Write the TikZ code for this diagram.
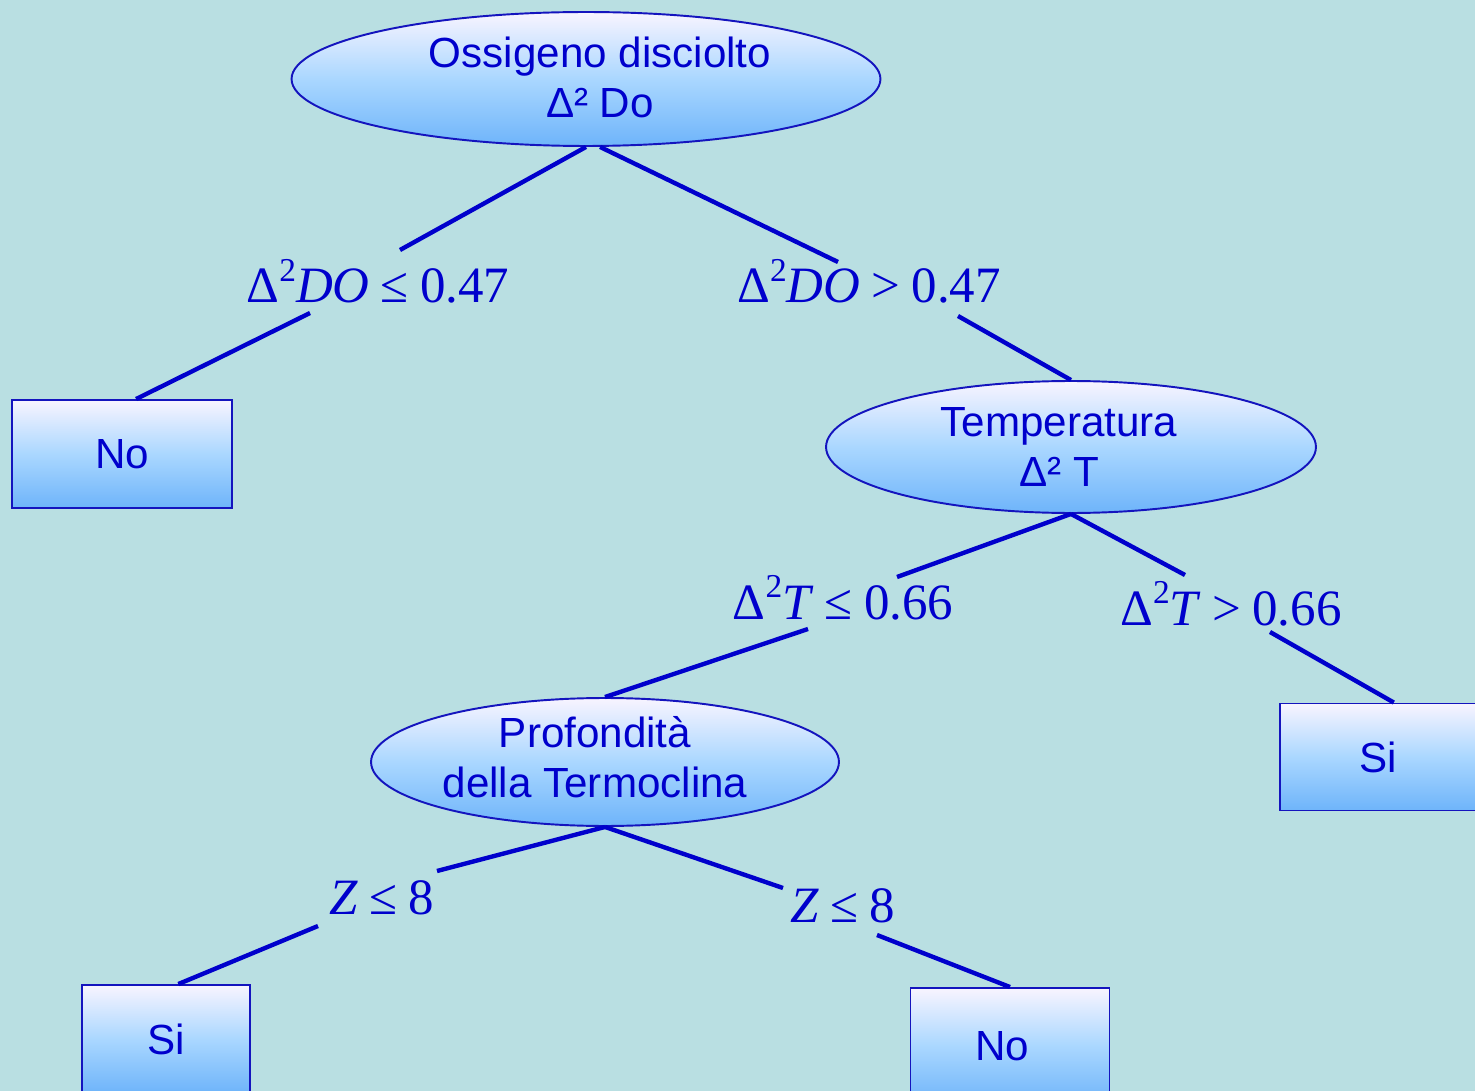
\documentclass[tikz,border=0pt]{standalone}
\usepackage{fontspec}
\setmainfont{Liberation Serif}
\newfontfamily\nodefont{Liberation Sans}
\usetikzlibrary{shapes.geometric}
\definecolor{bgc}{RGB}{185,223,226}
\definecolor{ink}{RGB}{0,0,204}
\definecolor{edgec}{RGB}{20,20,190}
\definecolor{fillbot}{RGB}{110,180,250}
\definecolor{fillmid}{RGB}{170,215,255}
\definecolor{filltop}{RGB}{248,244,255}
\tikzset{
  ellnode/.style={ellipse, draw=edgec, line width=1.1pt, inner sep=0pt,
    top color=filltop, bottom color=fillbot, middle color=fillmid},
  elltext/.style={text=ink, font=\nodefont\fontsize{24}{28.5}\selectfont, align=center, inner sep=0pt},
  boxnode/.style={rectangle, draw=edgec, line width=1.1pt, inner sep=0pt,
    top color=filltop, bottom color=fillbot, middle color=fillmid,
    text=ink, font=\nodefont\fontsize{24}{28.5}\selectfont},
  condlabel/.style={anchor=base, text=ink, inner sep=0pt,
    font=\fontsize{29}{35}\selectfont},
  branch/.style={draw=ink, line width=2.5pt}
}
\newcommand{\dsq}{Δ\raisebox{0.42em}{\fontsize{19}{19}\selectfont 2}}
\newcommand{\gapsp}{\hspace{0.22em}}
\begin{document}
\begin{tikzpicture}[x=0.02cm,y=-0.02cm]
\clip (0,0) rectangle (1475,1091);
\fill[bgc] (0,0) rectangle (1475,1091);

% decision nodes
\node[ellnode, minimum width=11.78cm, minimum height=2.68cm,
  label={[elltext, xshift=0.28cm, yshift=0.03cm]center:{Ossigeno disciolto\\Δ² Do}}] (root) at (586,79) {};
\node[ellnode, minimum width=9.8cm, minimum height=2.64cm,
  label={[elltext, xshift=-0.24cm]center:{Temperatura\\Δ² T}}] (temp) at (1071,447) {};
\node[ellnode, minimum width=9.36cm, minimum height=2.56cm,
  label={[elltext, xshift=-0.2cm, yshift=0.1cm]center:{Profondità\\della Termoclina}}] (prof) at (605,762) {};

% leaves
\node[boxnode, minimum width=4.4cm, minimum height=2.16cm] (no1) at (122,454) {No};
\node[boxnode, minimum width=3.92cm, minimum height=2.14cm] (si1) at (1378,757) {Si};
\node[boxnode, minimum width=3.36cm, minimum height=2.16cm] (si2) at (166,1039) {Si};
\node[boxnode, minimum width=3.98cm, minimum height=2.32cm,
  execute at begin node={\hspace*{-0.32cm}}] (no2) at (1010,1046) {No};

% condition labels
\node[condlabel] (l1) at (378,303) {\dsq\textit{DO}\gapsp≤\gapsp0.47};
\node[condlabel] (l2) at (869,303) {\dsq\textit{DO}\gapsp>\gapsp0.47};
\node[condlabel] (l3) at (843,619) {\dsq\textit{T}\gapsp≤\gapsp0.66};
\node[condlabel] (l4) at (1231,625) {\dsq\textit{T}\gapsp>\gapsp0.66};
\node[condlabel] (l5) at (382,914) {\textit{Z}\gapsp≤\gapsp8};
\node[condlabel] (l6) at (843,922) {\textit{Z}\gapsp≤\gapsp8};

% connector break points around the labels
\coordinate (c1a) at (400,250);
\coordinate (c1b) at (310,313);
\coordinate (c2a) at (838,262);
\coordinate (c2b) at (958,316);
\coordinate (c3a) at (897,577);
\coordinate (c3b) at (808,629);
\coordinate (c4a) at (1185,575);
\coordinate (c4b) at (1270,632);
\coordinate (c5a) at (437,871);
\coordinate (c5b) at (318,926);
\coordinate (c6a) at (783,888);
\coordinate (c6b) at (877,935);

\draw[branch] (root.south) -- (c1a);
\draw[branch] (c1b) -- ([xshift=8]no1.north);
\draw[branch] ([xshift=8]root.south) -- (c2a);
\draw[branch] (c2b) -- (temp.north);
\draw[branch] (temp.south) -- (c3a);
\draw[branch] (c3b) -- (prof.north);
\draw[branch] (temp.south) -- (c4a);
\draw[branch] (c4b) -- ([xshift=9]si1.north);
\draw[branch] (prof.south) -- (c5a);
\draw[branch] (c5b) -- ([xshift=7]si2.north);
\draw[branch] (prof.south) -- (c6a);
\draw[branch] (c6b) -- (no2.north);
\end{tikzpicture}
\end{document}
